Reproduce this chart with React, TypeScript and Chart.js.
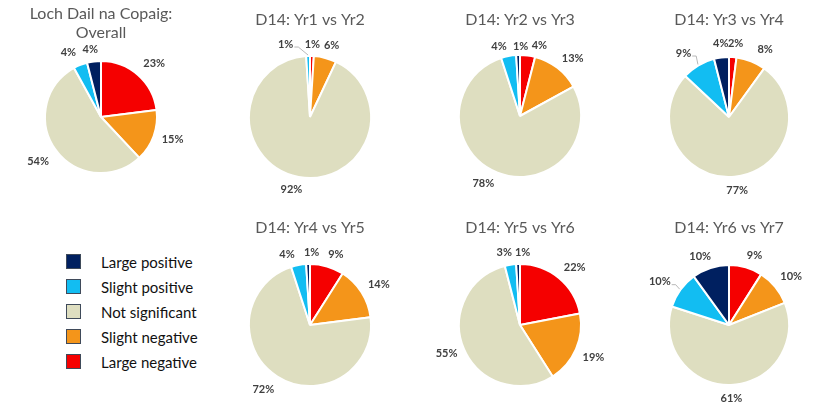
import React, { useEffect, useRef } from 'react';
import { Chart, registerables } from 'chart.js';

Chart.register(...registerables);
Chart.defaults.font.family = 'Lato, "Open Sans", sans-serif';

// ---- data ----
const categories = ['Large negative', 'Slight negative', 'Not significant', 'Slight positive', 'Large positive'];
const legendOrder = ['Large positive', 'Slight positive', 'Not significant', 'Slight negative', 'Large negative'];
const sliceColors = ['#F50000', '#F4951A', '#DEDEC0', '#12BDF2', '#002060'];

const overall = [23, 15, 54, 4, 4];
const yr1vsYr2 = [1, 6, 92, 1, 0];
const yr2vsYr3 = [4, 13, 78, 4, 1];
const yr3vsYr4 = [2, 8, 77, 9, 4];
const yr4vsYr5 = [9, 14, 72, 4, 1];
const yr5vsYr6 = [22, 19, 55, 3, 1];
const yr6vsYr7 = [9, 10, 61, 10, 10];

// ---- layout (positions / label nudges, not data) ----
type Panel = {
  title: string | string[];
  data: number[];
  cx: number;
  top: number;
  height: number;
  titlePadTop: number;
  titlePadBottom: number;
  padBottom: number;
  radius: number;
  nudges: number[][];
  leaders: boolean[];
};

const W = 200;

const panels: Panel[] = [
  {
    title: ['Loch Dail na Copaig:', 'Overall'], data: overall, cx: 101, top: 0, height: 200,
    titlePadTop: 4.4, titlePadBottom: 8, padBottom: 16.8, radius: 56,
    nudges: [[5, -3], [3, -1], [-4, 4], [-7, -1], [-2, 0]], leaders: [false, false, false, false, false],
  },
  {
    title: 'D14: Yr1 vs Yr2', data: yr1vsYr2, cx: 310, top: 0, height: 200,
    titlePadTop: 10.4, titlePadBottom: 8, padBottom: 3.6, radius: 61,
    nudges: [[0, 0], [3, -1], [-4, 1], [-22, 0], [0, 0]], leaders: [false, false, false, true, false],
  },
  {
    title: 'D14: Yr2 vs Yr3', data: yr2vsYr3, cx: 520, top: 0, height: 200,
    titlePadTop: 10.4, titlePadBottom: 8, padBottom: 5.6, radius: 61,
    nudges: [[10, 2], [5, 0], [-8, 0], [-7, 2], [3, 3]], leaders: [false, false, false, false, false],
  },
  {
    title: 'D14: Yr3 vs Yr4', data: yr3vsYr4, cx: 729, top: 0, height: 200,
    titlePadTop: 10.4, titlePadBottom: 8, padBottom: 3.6, radius: 60,
    nudges: [[2, -2], [9, -1], [1, 2], [-8, -2], [1, -2]], leaders: [false, false, false, true, false],
  },
  {
    title: 'D14: Yr4 vs Yr5', data: yr4vsYr5, cx: 310, top: 205, height: 206,
    titlePadTop: 13.1, titlePadBottom: 8, padBottom: 6.3, radius: 61,
    nudges: [[5, 0], [3, -1], [-5, 3], [-9, 1], [4, 0]], leaders: [false, false, false, false, false],
  },
  {
    title: 'D14: Yr5 vs Yr6', data: yr5vsYr6, cx: 520, top: 205, height: 206,
    titlePadTop: 13.1, titlePadBottom: 8, padBottom: 6.3, radius: 61,
    nudges: [[5, -1], [2, 3], [-2, -1], [-4, 0], [5, 0]], leaders: [false, false, false, false, false],
  },
  {
    title: 'D14: Yr6 vs Yr7', data: yr6vsYr7, cx: 729, top: 205, height: 206,
    titlePadTop: 13.1, titlePadBottom: 8, padBottom: 6.3, radius: 60,
    nudges: [[5, 0], [3, -3], [0, 1], [-7, -1], [-5, 0]], leaders: [false, false, false, true, false],
  },
];

function makeLabelPlugin(nudges: number[][], leaders: boolean[]) {
  return {
    id: 'sliceLabels',
    afterDatasetsDraw(chart: any) {
      const ctx = chart.ctx as CanvasRenderingContext2D;
      const meta = chart.getDatasetMeta(0);
      const values = chart.data.datasets[0].data as number[];
      ctx.save();
      ctx.font = 'bold 11px Lato, "Open Sans", sans-serif';
      ctx.fillStyle = '#404040';
      ctx.textAlign = 'center';
      ctx.textBaseline = 'middle';
      meta.data.forEach((arc: any, i: number) => {
        const v = values[i];
        if (!v) return;
        const { x, y, startAngle, endAngle, outerRadius } = arc.getProps(
          ['x', 'y', 'startAngle', 'endAngle', 'outerRadius'], true);
        const mid = (startAngle + endAngle) / 2;
        const c = Math.cos(mid);
        const s = Math.sin(mid);
        const text = v + '%';
        const w = ctx.measureText(text).width;
        const h = 12;
        const g = 6;
        const nx = (nudges[i] || [0, 0])[0];
        const ny = (nudges[i] || [0, 0])[1];
        const lx = x + (outerRadius + g) * c + c * w / 2 + nx;
        const ly = y + (outerRadius + g) * s + s * h / 2 + ny;
        ctx.fillText(text, lx, ly);
        if (leaders[i]) {
          ctx.beginPath();
          ctx.strokeStyle = '#A6A6A6';
          ctx.lineWidth = 0.8;
          const sx = lx + w / 2 + 1;
          const sy = ly + 3;
          ctx.moveTo(sx, sy);
          ctx.lineTo(sx + 4, sy);
          ctx.lineTo(x + (outerRadius + 1) * c, y + (outerRadius + 1) * s);
          ctx.stroke();
        }
      });
      ctx.restore();
    },
  };
}

function PiePanel({ p }: { p: Panel }) {
  const ref = useRef<HTMLCanvasElement | null>(null);
  useEffect(() => {
    if (!ref.current) return;
    const chart = new Chart(ref.current, {
      type: 'pie',
      data: {
        labels: categories,
        datasets: [{
          data: p.data,
          backgroundColor: sliceColors,
          borderColor: '#FFFFFF',
          borderWidth: 2,
          radius: p.radius,
        } as any],
      },
      options: {
        animation: false,
        responsive: false,
        maintainAspectRatio: false,
        radius: p.radius,
        layout: { padding: { left: 0, right: 0, top: 0, bottom: p.padBottom } },
        plugins: {
          legend: { display: false },
          tooltip: { enabled: false },
          title: {
            display: true,
            text: p.title,
            color: '#595959',
            font: { size: 16, weight: 'normal', family: 'Lato, "Open Sans", sans-serif', lineHeight: 1.2 },
            padding: { top: p.titlePadTop, bottom: p.titlePadBottom },
          },
        },
      } as any,
      plugins: [makeLabelPlugin(p.nudges, p.leaders)],
    });
    return () => chart.destroy();
  }, [p]);
  return (
    <canvas
      ref={ref}
      width={W}
      height={p.height}
      style={{ position: 'absolute', left: p.cx - W / 2, top: p.top, width: W, height: p.height }}
    />
  );
}

function Legend() {
  return (
    <div style={{ position: 'absolute', left: 66, top: 249, fontFamily: 'Lato, "Open Sans", sans-serif' }}>
      {legendOrder.map((name) => {
        const color = sliceColors[categories.indexOf(name)];
        return (
          <div key={name} style={{ display: 'flex', alignItems: 'center', height: 25 }}>
            <div style={{ width: 13, height: 13, background: color, border: '1px solid #3F4A5A', boxSizing: 'content-box' }} />
            <div style={{ marginLeft: 20, fontSize: 15, color: '#111111', whiteSpace: 'nowrap' }}>{name}</div>
          </div>
        );
      })}
    </div>
  );
}

export default function App() {
  return (
    <div style={{ position: 'absolute', left: 0, top: 0, width: 830, height: 411, background: '#FFFFFF', overflow: 'hidden' }}>
      {panels.map((p, i) => (
        <PiePanel key={i} p={p} />
      ))}
      <Legend />
    </div>
  );
}
